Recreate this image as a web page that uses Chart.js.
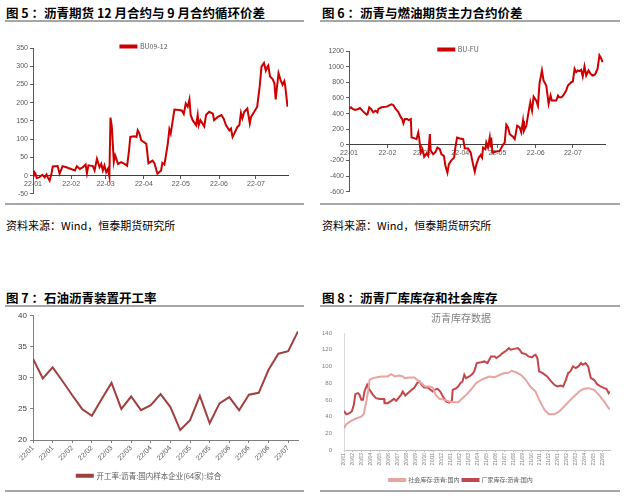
<!DOCTYPE html>
<html>
<head>
<meta charset="utf-8">
<script src="https://cdn.jsdelivr.net/npm/chart.js@4"></script>
<style>
    body { margin: 0; width: 624px; height: 499px; background: #fff; position: relative; overflow: hidden; font-family: "Noto Sans CJK SC", sans-serif; }
    .title { position: absolute; font-size: 12.5px; line-height: 16px; font-weight: bold; color: #000; white-space: nowrap; }
    .rule { position: absolute; height: 2px; background: #a6a6a6; }
    .src { position: absolute; font-size: 11px; line-height: 14px; color: #000; white-space: nowrap; }
    canvas { position: absolute; }
</style>
</head>
<body>
<div class="title" style="left:6px;top:5px">图 5 ：沥青期货 12 月合约与 9 月合约循环价差</div>
<div class="rule" style="left:5px;top:20px;width:299px"></div>
<canvas id="spreadChart" width="305" height="162" style="left:0;top:38px"></canvas>
<div class="rule" style="left:5px;top:203px;width:299px"></div>
<div class="src" style="left:6px;top:218px">资料来源：Wind，恒泰期货研究所</div>

<div class="title" style="left:322px;top:5px">图 6 ：沥青与燃油期货主力合约价差</div>
<div class="rule" style="left:320px;top:20px;width:300px"></div>
<canvas id="buFuChart" width="312" height="160" style="left:312px;top:38px"></canvas>
<div class="rule" style="left:320px;top:203px;width:300px"></div>
<div class="src" style="left:322px;top:218px">资料来源：Wind，恒泰期货研究所</div>

<div class="title" style="left:6px;top:290px">图 7 ：石油沥青装置开工率</div>
<div class="rule" style="left:5px;top:305px;width:299px"></div>
<canvas id="rateChart" width="310" height="180" style="left:0;top:308px"></canvas>
<div class="rule" style="left:5px;top:490px;width:299px"></div>

<div class="title" style="left:322px;top:290px">图 8 ：沥青厂库库存和社会库存</div>
<div class="rule" style="left:320px;top:305px;width:300px"></div>
<canvas id="stockChart" width="312" height="180" style="left:312px;top:308px"></canvas>
<div class="rule" style="left:320px;top:490px;width:300px"></div>

<script>
// ---- data ----
// month starts (days since 2022-01-01) and their labels, charts 5 & 6
const monthDays = [0, 31, 59, 90, 120, 151, 181];
const monthLabels = ['22-01', '22-02', '22-03', '22-04', '22-05', '22-06', '22-07'];

// BU09-12 spread
const days5 = [
    0, 0.8, 2, 3, 5, 7.5, 9.5, 11, 12, 13.5,
    15, 16, 20, 21.6, 24, 27, 34, 35.6, 38, 40.5,
    42.7, 43.8, 45, 48.6, 50, 51.9, 54, 55.4, 56.7, 58,
    59.4, 60.8, 62, 62.9, 64, 65.6, 66.7, 69, 71.6, 74.3,
    76.4, 77.8, 79, 82, 84, 85, 86.4, 87.8, 92, 93.7,
    97, 98.6, 101, 104, 105, 106.7, 109.4, 110.7, 111.8, 114.8,
    118.8, 121, 122.4, 124, 125.6, 127, 128, 129.6, 132.4, 133.7,
    134.5, 135.9, 139, 140.5, 143, 146, 147, 150, 153, 154.7,
    156.7, 159.4, 160.7, 162, 163.4, 166, 167.5, 168.8, 170, 171.5,
    174, 176, 177, 179.6, 182, 184, 185.5, 187.5, 189, 190.4,
    191, 192.4, 194.5, 196, 197, 199.3, 201, 202.6, 204, 204.7,
    206.6
];
const spread5 = [
    14, 0, 5, -7, -5, 2, -5, 3, -5, -14,
    5, 25, 26, 5, 26, 23, 14, 26, 18, 23,
    30, 6, 28, 26, 14, 46, 23, 32, 14, 28,
    9, 18, -2, 159, 134, 37, 55, 32, 37, 32,
    27, 64, 106, 108, 106, 124, 115, 97, 87, 34,
    41, 34, 5, 14, 35, 30, 87, 127, 115, 181,
    180, 178, 169, 198, 189, 209, 166, 152, 138, 166,
    138, 152, 135, 166, 175, 170, 152, 161, 166, 157,
    138, 124, 129, 106, 115, 134, 138, 172, 157, 175,
    184, 143, 161, 175, 189, 244, 299, 309, 288, 299,
    302, 272, 265, 253, 209, 281, 262, 249, 259, 248,
    189
];

// BU-FU spread
const days6 = [
    0, 1.6, 3, 4.8, 7.5, 8.9, 10.8, 13, 14.3, 15,
    16.4, 17.8, 19.6, 21.5, 23, 23.7, 26.4, 30.4, 34.4, 35.8,
    37.7, 39.8, 42, 43, 44, 45.2, 47, 48.4, 50, 50.6,
    52.7, 54.6, 56, 56.7, 58, 59.4, 60.8, 62.7, 64, 65.4,
    66, 68, 70, 71.5, 73.4, 74.8, 76.7, 78, 79.6, 80.7,
    82.8, 85, 86, 87.4, 89.6, 92.3, 93.6, 96.3, 98.4, 100.3,
    101.7, 103, 104.9, 106.5, 107.6, 108.4, 110.3, 111, 112.4, 113.8,
    114.6, 115, 116, 119, 121.8, 124.5, 125.9, 127.2, 128.6, 130,
    132.6, 134, 136, 138, 139.3, 140.7, 141.5, 143.4, 144.7, 146.6,
    148, 149.3, 151.4, 152.8, 154, 156, 157.3, 159.5, 161.4, 163,
    164, 167.6, 169, 170, 172, 174, 175.6, 177, 179.7, 181,
    182.4, 183.7, 185, 186.4, 187.7, 189, 190.4, 191.8, 193.7, 195.3,
    197, 199, 201, 202.5, 204, 205
];
const spread6 = [
    459, 480, 459, 446, 459, 471, 437, 403, 386, 394,
    480, 459, 416, 437, 416, 459, 480, 489, 519, 510,
    459, 424, 351, 330, 274, 330, 330, 317, 330, 94,
    86, 73, 159, 94, -99, -56, -154, -111, -141, 137,
    -69, -120, -90, -34, -56, -120, -141, -270, -356, -249,
    -197, -163, -34, 94, 81, 73, -43, -47, -99, -249,
    -343, -249, -163, -129, -163, -34, -56, 30, -34, 94,
    -34, 94, -99, -86, -77, 0, 30, 257, 223, 137,
    103, 73, 244, 223, 159, 309, 180, 244, 373, 544,
    437, 617, 566, 501, 780, 951, 823, 759, 523, 630,
    566, 566, 630, 609, 609, 651, 694, 759, 801, 810,
    973, 930, 951, 943, 960, 874, 1003, 887, 951, 909,
    887, 900, 973, 1144, 1101, 1058
];

// weekly operating rate
const labels7 = ['22/01', '22/01', '22/02', '22/02', '22/03', '22/03', '22/04',
                 '22/04', '22/05', '22/05', '22/06', '22/06', '22/06', '22/07'];
const rate7 = [
    33.1, 29.9, 31.7, 29.5, 27.2, 25.0, 23.9, 26.6, 29.2, 25.0,
    27.0, 24.8, 25.6, 27.4, 25.3, 21.6, 23.2, 27.1, 22.7, 25.9,
    26.9, 24.8, 27.3, 27.6, 31.3, 33.9, 34.3, 37.5
];

// inventories (x = months since 2020-01)
const labels8 = [
    '20/01', '20/02', '20/03', '20/04', '20/05', '20/06', '20/07', '20/08', '20/09', '20/10', '20/11', '20/12',
    '21/01', '21/02', '21/03', '21/04', '21/05', '21/06', '21/07', '21/08', '21/09', '21/10', '21/11', '21/12',
    '22/01', '22/02', '22/03', '22/04', '22/05', '22/06'
];
const socialX = [
    0, 0.26, 0.8, 1.4, 1.94, 2.2, 2.5, 2.7, 2.87, 3.25,
    3.6, 4.2, 4.9, 5.3, 5.7, 6.2, 6.6, 6.8, 7.35, 7.9,
    8.2, 8.66, 9.1, 9.6, 9.96, 10.3, 10.7, 11.3, 11.8, 12.4,
    12.8, 13.3, 13.9, 14.4, 14.8, 15.6, 16.3, 16.9, 17.5, 18.0,
    18.4, 18.8, 19.3, 19.85, 20.4, 20.9, 21.5, 21.9, 22.5, 23.0,
    23.6, 24.15, 24.7, 25.3, 25.8, 26.4, 26.9, 27.5, 28.06, 28.6,
    29.2, 29.7, 29.85
];
const socialStock = [
    26, 30.8, 34.8, 38, 40, 42.8, 58, 70, 84, 86,
    86.8, 88, 88, 90.8, 88, 89.2, 88, 86, 86.8, 86.8,
    84, 80, 76, 76, 74.8, 66, 61.2, 60, 58, 57.2,
    57.2, 62, 68, 74, 80, 85, 88, 87, 90, 92,
    92, 94.8, 93, 90, 84, 76, 70, 60, 48, 42.8,
    42.8, 46, 52, 58.8, 64, 70, 73.2, 74, 72, 66,
    58, 50, 49
];
const factoryX = [
    0, 0.26, 0.63, 0.9, 1.1, 1.27, 1.57, 1.75, 1.94, 2.13,
    2.3, 2.6, 2.87, 3.25, 3.6, 4.0, 4.5, 4.55, 4.9, 5.3,
    5.6, 5.86, 6.1, 6.4, 6.6, 6.87, 7.16, 7.6, 7.9, 8.2,
    8.47, 8.7, 9.0, 9.4, 9.7, 9.96, 10.15, 10.5, 10.8, 11.1,
    11.45, 11.8, 12.1, 12.2, 12.6, 12.8, 13.06, 13.3, 13.5, 13.7,
    14.07, 14.4, 14.6, 14.9, 15.4, 15.75, 16.1, 16.3, 16.5, 16.9,
    17.1, 17.5, 17.8, 18.2, 18.5, 18.7, 19.1, 19.5, 19.7, 19.96,
    20.4, 20.7, 21.1, 21.3, 21.5, 21.7, 21.9, 22.3, 22.8, 23.2,
    23.6, 23.95, 24.3, 24.6, 24.9, 25.15, 25.4, 25.7, 26.0, 26.3,
    26.6, 26.8, 27.1, 27.4, 27.7, 28.06, 28.4, 28.8, 29.2, 29.45,
    29.7, 29.85
];
const factoryStock = [
    46.8, 42.8, 44, 46.8, 54, 66.8, 68, 66, 60, 60,
    70, 78, 72, 66, 62, 61, 61, 56, 56, 58.8,
    61.2, 58.8, 62, 66, 70, 65.2, 68, 72, 74.8, 80,
    82, 78, 74.8, 74.8, 72, 70, 72, 73.2, 70, 64,
    58, 56.8, 58.8, 72, 74, 76, 80, 82, 90, 86,
    88, 90.8, 94, 104, 105, 106, 104, 108, 112, 112,
    110, 113, 116, 118.8, 122, 120, 121, 122, 120, 116,
    114.8, 112, 110.8, 113, 114, 110, 94, 92, 88, 82.8,
    78, 76, 77.2, 76, 84, 92, 94, 100, 98, 100,
    104, 102, 104, 100, 86, 84, 78.8, 76, 74, 73.2,
    68, 70
];

// ---- shared styles ----
const numFont = { family: 'Liberation Sans, Arial, sans-serif', size: 7 };
const textGrey = '#595959';

function toPoints(xs, ys) {
    return xs.map((x, i) => ({ x: x, y: ys[i] }));
}

function lineLegend(size, pad) {
    return {
        display: true,
        labels: { boxWidth: 16, boxHeight: 2, padding: pad, color: textGrey, font: { family: '"Noto Sans CJK SC", Liberation Sans, sans-serif', size: size } }
    };
}

// the legend in these charts sits tight against the plot, so clamp its box height
// (and widen its clip box afterwards so the text is not cut off)
function legendHeight(h) {
    return {
        id: 'legendHeight',
        beforeLayout(chart) {
            const legend = chart.legend;
            if (!legend || legend._fixed) return;
            const fit = legend.fit;
            legend.fit = function () {
                fit.call(this);
                this.height = h;
            };
            legend._fixed = true;
        },
        afterLayout(chart) {
            if (chart.legend) chart.legend.bottom = chart.legend.top + 30;
        }
    };
}

document.addEventListener('DOMContentLoaded', () => {
    createSpreadChart();
    createBuFuChart();
    createRateChart();
    createStockChart();
});

// Fig 5: BU09-12
function createSpreadChart() {
    const ctx = document.getElementById('spreadChart').getContext('2d');
    new Chart(ctx, {
        type: 'line',
        data: {
            datasets: [{
                label: 'BU09-12',
                data: toPoints(days5, spread5),
                borderColor: '#cc0000',
                backgroundColor: '#cc0000',
                borderWidth: 2,
                pointRadius: 0,
                tension: 0
            }]
        },
        plugins: [legendHeight(10)],
        options: {
            responsive: false,
            animation: false,
            devicePixelRatio: 1,
            layout: { padding: { top: 0, right: 17, bottom: 0, left: 0 } },
            plugins: { legend: lineLegend(7, 5), tooltip: { enabled: false } },
            scales: {
                x: {
                    type: 'linear',
                    position: { y: 0 },
                    min: 0,
                    max: 207,
                    afterBuildTicks: (s) => { s.ticks = monthDays.map(v => ({ value: v })); },
                    ticks: { callback: (v, i) => monthLabels[i], font: numFont, color: textGrey, maxRotation: 0, autoSkip: false, padding: 1 },
                    grid: { drawOnChartArea: false, tickLength: 3, color: '#595959' },
                    border: { color: '#404040', width: 1 }
                },
                y: {
                    min: -50,
                    max: 350,
                    afterFit: (s) => { s.width = 33; },
                    ticks: { stepSize: 50, callback: (v) => String(v), font: numFont, color: textGrey, padding: 2 },
                    grid: { drawOnChartArea: false, tickLength: 3, color: '#595959' },
                    border: { color: '#595959', width: 1 }
                }
            }
        }
    });
}

// Fig 6: BU-FU
function createBuFuChart() {
    const ctx = document.getElementById('buFuChart').getContext('2d');
    new Chart(ctx, {
        type: 'line',
        data: {
            datasets: [{
                label: 'BU-FU',
                data: toPoints(days6, spread6),
                borderColor: '#cc0000',
                backgroundColor: '#cc0000',
                borderWidth: 2,
                pointRadius: 0,
                tension: 0
            }]
        },
        plugins: [legendHeight(13)],
        options: {
            responsive: false,
            animation: false,
            devicePixelRatio: 1,
            layout: { padding: { top: 0, right: 19, bottom: 2, left: 0 } },
            plugins: { legend: lineLegend(7, 8), tooltip: { enabled: false } },
            scales: {
                x: {
                    type: 'linear',
                    position: { y: 0 },
                    min: 0,
                    max: 207,
                    afterBuildTicks: (s) => { s.ticks = monthDays.map(v => ({ value: v })); },
                    ticks: { callback: (v, i) => monthLabels[i], font: numFont, color: textGrey, maxRotation: 0, autoSkip: false, padding: 1 },
                    grid: { drawOnChartArea: false, tickLength: 3, color: '#595959' },
                    border: { color: '#404040', width: 1 }
                },
                y: {
                    min: -600,
                    max: 1200,
                    afterFit: (s) => { s.width = 37; },
                    ticks: { stepSize: 200, callback: (v) => String(v), font: numFont, color: textGrey, padding: 2 },
                    grid: { drawOnChartArea: false, tickLength: 3, color: '#595959' },
                    border: { color: '#595959', width: 1 }
                }
            }
        }
    });
}

// Fig 7: operating rate
function createRateChart() {
    const ctx = document.getElementById('rateChart').getContext('2d');
    new Chart(ctx, {
        type: 'line',
        data: {
            datasets: [{
                label: '开工率:沥青:国内样本企业(64家):综合',
                data: rate7.map((v, i) => ({ x: i, y: v })),
                borderColor: '#a0403e',
                backgroundColor: '#a0403e',
                borderWidth: 2,
                pointRadius: 0,
                tension: 0
            }]
        },
        plugins: [legendHeight(16)],
        options: {
            responsive: false,
            animation: false,
            devicePixelRatio: 1,
            layout: { padding: { top: 4, right: 12, bottom: 4, left: 0 } },
            plugins: { legend: Object.assign(lineLegend(7.5, 4), { position: 'bottom' }), tooltip: { enabled: false } },
            scales: {
                x: {
                    type: 'linear',
                    min: 0,
                    max: rate7.length - 1,
                    afterBuildTicks: (s) => { s.ticks = labels7.map((l, i) => ({ value: i * 2 })); },
                    afterFit: (s) => { s.height = 28; },
                    ticks: { callback: (v, i) => labels7[i], font: numFont, color: textGrey, minRotation: 45, maxRotation: 45, autoSkip: false, padding: 1 },
                    grid: { drawOnChartArea: false, tickLength: 3, color: '#7f7f7f' },
                    border: { color: '#7f7f7f', width: 1 }
                },
                y: {
                    min: 20,
                    max: 40,
                    afterFit: (s) => { s.width = 33; },
                    ticks: { stepSize: 5, font: { family: numFont.family, size: 8 }, color: '#404040', padding: 3 },
                    grid: { drawOnChartArea: false, tickLength: 3, color: '#7f7f7f' },
                    border: { color: '#7f7f7f', width: 1 }
                }
            }
        }
    });
}

// Fig 8: factory and social inventories
function createStockChart() {
    const ctx = document.getElementById('stockChart').getContext('2d');
    new Chart(ctx, {
        type: 'line',
        data: {
            datasets: [{
                label: '社会库存:沥青:国内',
                data: toPoints(socialX, socialStock),
                borderColor: '#e8a3a2',
                backgroundColor: '#e8a3a2',
                borderWidth: 2,
                pointRadius: 0,
                tension: 0
            }, {
                label: '厂家库存:沥青:国内',
                data: toPoints(factoryX, factoryStock),
                borderColor: '#c4464a',
                backgroundColor: '#c4464a',
                borderWidth: 2,
                pointRadius: 0,
                tension: 0
            }]
        },
        plugins: [legendHeight(12)],
        options: {
            responsive: false,
            animation: false,
            devicePixelRatio: 1,
            layout: { padding: { top: 2, right: 14, bottom: 2, left: 0 } },
            plugins: {
                title: { display: true, text: '沥青库存数据', color: '#808080', font: { family: '"Noto Sans CJK SC", sans-serif', size: 10, weight: 'normal' }, padding: { top: 2, bottom: 9 } },
                legend: Object.assign(lineLegend(6, 3), { position: 'bottom' }),
                tooltip: { enabled: false }
            },
            scales: {
                x: {
                    type: 'linear',
                    min: 0,
                    max: 29.85,
                    afterBuildTicks: (s) => { s.ticks = labels8.map((l, i) => ({ value: i })); },
                    afterFit: (s) => { s.height = 24; },
                    ticks: { callback: (v, i) => labels8[i], font: { family: numFont.family, size: 5 }, color: '#7f7f7f', minRotation: 90, maxRotation: 90, autoSkip: false, padding: 1 },
                    grid: { drawOnChartArea: false, tickLength: 2, color: '#bfbfbf' },
                    border: { color: '#bfbfbf', width: 1 }
                },
                y: {
                    min: 0,
                    max: 140,
                    afterFit: (s) => { s.width = 32; },
                    ticks: { stepSize: 20, font: { family: numFont.family, size: 6 }, color: '#7f7f7f', padding: 4 },
                    grid: { display: false },
                    border: { color: '#d9d9d9', width: 1 }
                }
            }
        }
    });
}
</script>
</body>
</html>
